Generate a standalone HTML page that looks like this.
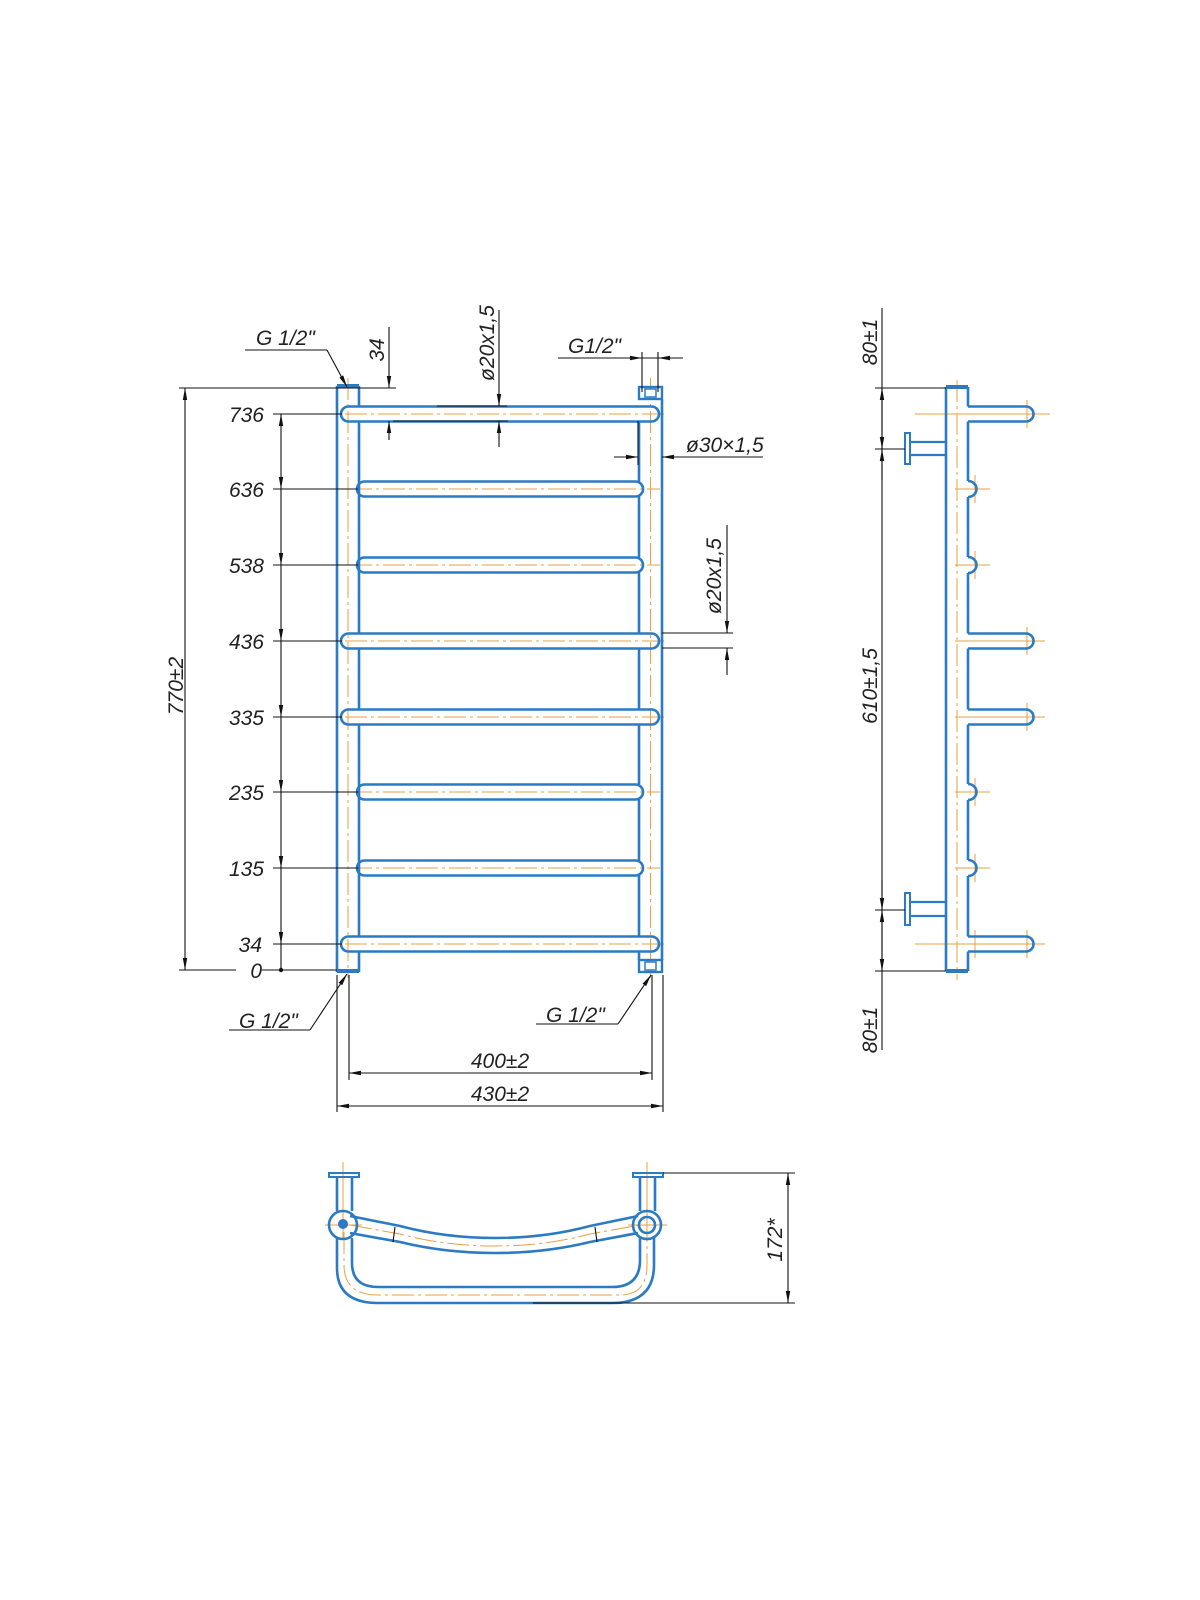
<!DOCTYPE html>
<html><head><meta charset="utf-8"><style>
html,body{margin:0;padding:0;background:#fff;}
svg{display:block;}
text{font-family:"Liberation Sans",sans-serif;font-style:italic;font-size:21px;fill:#222;}
</style></head><body>
<svg width="1200" height="1600" viewBox="0 0 1200 1600" xmlns="http://www.w3.org/2000/svg">
<defs>
<marker id="a" viewBox="0 0 12 6" refX="12" refY="3" markerWidth="12" markerHeight="6" markerUnits="userSpaceOnUse" orient="auto-start-reverse"><path d="M0,0.8 L12,3 L0,5.2z" fill="#111"/></marker>
</defs>
<rect width="1200" height="1600" fill="#fff"/>

<!-- ===== FRONT VIEW ===== -->
<g stroke="#e8a040" stroke-width="1" stroke-dasharray="22,4,3,4" fill="none">
<line x1="348" y1="378" x2="348" y2="978"/>
<line x1="650.5" y1="378" x2="650.5" y2="978"/>
<line x1="345" y1="414" x2="668" y2="414"/>
<line x1="350" y1="489" x2="660" y2="489"/>
<line x1="350" y1="565" x2="660" y2="565"/>
<line x1="345" y1="641" x2="668" y2="641"/>
<line x1="345" y1="717" x2="668" y2="717"/>
<line x1="350" y1="792" x2="660" y2="792"/>
<line x1="350" y1="868" x2="660" y2="868"/>
<line x1="345" y1="944" x2="668" y2="944"/>
</g>
<g stroke="#2a7bc4" stroke-width="2.6" fill="none">
<path d="M337,386 V972 M359,386 V406.5 M359,421.5 V633.5 M359,648.5 V709.5 M359,724.5 V936.5 M359,951.5 V972"/>
<line x1="337" y1="386" x2="359" y2="386" stroke-width="4"/>
<line x1="337" y1="971" x2="359" y2="971" stroke-width="4"/>
<path d="M639,421.5 V481.5 M639,496.5 V557.5 M639,572.5 V633.5 M639,648.5 V709.5 M639,724.5 V784.5 M639,799.5 V860.5 M639,875.5 V936.5 M639,951.5 V960"/>
<path d="M662,400 V960"/>
<rect x="639" y="387" width="23" height="12" stroke-width="2.4"/>
<rect x="639" y="960" width="23" height="12" stroke-width="2.4"/>
<rect x="341" y="406.5" width="318" height="15" rx="7.5"/>
<rect x="341" y="633.5" width="318" height="15" rx="7.5"/>
<rect x="341" y="709.5" width="318" height="15" rx="7.5"/>
<rect x="341" y="936.5" width="318" height="15" rx="7.5"/>
<rect x="357" y="481.5" width="286" height="15" rx="7.5"/>
<rect x="357" y="557.5" width="286" height="15" rx="7.5"/>
<rect x="357" y="784.5" width="286" height="15" rx="7.5"/>
<rect x="357" y="860.5" width="286" height="15" rx="7.5"/>
</g>
<rect x="645" y="389" width="11" height="8" fill="#fff" stroke="#2a7bc4" stroke-width="1.5"/>
<rect x="645" y="962" width="11" height="8" fill="#fff" stroke="#2a7bc4" stroke-width="1.5"/>

<g stroke="#111" stroke-width="1.1" fill="none">
<line x1="273" y1="414" x2="342" y2="414"/>
<line x1="273" y1="489" x2="358" y2="489"/>
<line x1="273" y1="565" x2="358" y2="565"/>
<line x1="273" y1="641" x2="342" y2="641"/>
<line x1="273" y1="717" x2="342" y2="717"/>
<line x1="273" y1="792" x2="358" y2="792"/>
<line x1="273" y1="868" x2="358" y2="868"/>
<line x1="273" y1="944" x2="342" y2="944"/>
<line x1="179" y1="970" x2="236" y2="970"/>
<line x1="262" y1="970" x2="337" y2="970"/>
<line x1="179" y1="388" x2="396" y2="388"/>
<line x1="281" y1="414" x2="281" y2="489" marker-start="url(#a)" marker-end="url(#a)"/>
<line x1="281" y1="489" x2="281" y2="565" marker-end="url(#a)"/>
<line x1="281" y1="565" x2="281" y2="641" marker-end="url(#a)"/>
<line x1="281" y1="641" x2="281" y2="717" marker-end="url(#a)"/>
<line x1="281" y1="717" x2="281" y2="792" marker-end="url(#a)"/>
<line x1="281" y1="792" x2="281" y2="868" marker-end="url(#a)"/>
<line x1="281" y1="868" x2="281" y2="944" marker-end="url(#a)"/>
<line x1="281" y1="944" x2="281" y2="970"/>
<line x1="185" y1="388" x2="185" y2="970" marker-start="url(#a)" marker-end="url(#a)"/>
<line x1="389" y1="327" x2="389" y2="388" marker-end="url(#a)"/>
<line x1="389" y1="440" x2="389" y2="421" marker-end="url(#a)"/>
<line x1="393" y1="421" x2="508" y2="421"/>
<line x1="437" y1="406" x2="507" y2="406"/>
<line x1="499" y1="310" x2="499" y2="406" marker-end="url(#a)"/>
<line x1="499" y1="447" x2="499" y2="421" marker-end="url(#a)"/>
<line x1="245" y1="350" x2="327" y2="350"/>
<line x1="327" y1="350" x2="347" y2="387" marker-end="url(#a)"/>
<line x1="558" y1="358" x2="683" y2="358"/>
<line x1="642" y1="352" x2="642" y2="392"/>
<line x1="658" y1="352" x2="658" y2="392"/>
<line x1="622" y1="358" x2="642" y2="358" marker-end="url(#a)"/>
<line x1="678" y1="358" x2="658" y2="358" marker-end="url(#a)"/>
<line x1="638" y1="421" x2="638" y2="465"/>
<line x1="614" y1="457" x2="638" y2="457" marker-end="url(#a)"/>
<line x1="763" y1="457" x2="662" y2="457" marker-end="url(#a)"/>
<line x1="662" y1="633" x2="733" y2="633"/>
<line x1="662" y1="648" x2="733" y2="648"/>
<line x1="727" y1="525" x2="727" y2="633" marker-end="url(#a)"/>
<line x1="727" y1="675" x2="727" y2="648" marker-end="url(#a)"/>
<line x1="229" y1="1030" x2="310" y2="1030"/>
<line x1="310" y1="1030" x2="347" y2="974" marker-end="url(#a)"/>
<line x1="536" y1="1024" x2="618" y2="1024"/>
<line x1="618" y1="1024" x2="651" y2="975" marker-end="url(#a)"/>
<line x1="349" y1="975" x2="349" y2="1080"/>
<line x1="652" y1="975" x2="652" y2="1080"/>
<line x1="337" y1="975" x2="337" y2="1112"/>
<line x1="663" y1="975" x2="663" y2="1112"/>
<line x1="349" y1="1073" x2="652" y2="1073" marker-start="url(#a)" marker-end="url(#a)"/>
<line x1="337" y1="1106" x2="663" y2="1106" marker-start="url(#a)" marker-end="url(#a)"/>
</g>
<circle cx="281" cy="970" r="2.2" fill="#111"/>

<g text-anchor="end">
<text x="264" y="422">736</text>
<text x="264" y="497">636</text>
<text x="264" y="573">538</text>
<text x="264" y="649">436</text>
<text x="264" y="725">335</text>
<text x="264" y="800">235</text>
<text x="264" y="876">135</text>
<text x="262" y="952">34</text>
<text x="262" y="978">0</text>
</g>
<text x="256" y="345">G 1/2"</text>
<text x="568" y="353">G1/2"</text>
<text x="686" y="452">ø30×1,5</text>
<text x="239" y="1028">G 1/2"</text>
<text x="546" y="1022">G 1/2"</text>
<text x="500" y="1068" text-anchor="middle">400±2</text>
<text x="500" y="1101" text-anchor="middle">430±2</text>
<text transform="translate(183,686) rotate(-90)" text-anchor="middle">770±2</text>
<text transform="translate(384,350) rotate(-90)" text-anchor="middle">34</text>
<text transform="translate(494,343) rotate(-90)" text-anchor="middle">ø20x1,5</text>
<text transform="translate(721,576) rotate(-90)" text-anchor="middle">ø20x1,5</text>

<!-- ===== SIDE VIEW ===== -->
<g stroke="#e8a040" stroke-width="1" stroke-dasharray="22,4,3,4" fill="none">
<line x1="957" y1="380" x2="957" y2="980"/>
</g>
<g stroke="#e8a040" stroke-width="1" fill="none">
<line x1="915" y1="414" x2="1050" y2="414"/><line x1="1027" y1="400" x2="1027" y2="428"/>
<line x1="955" y1="489" x2="990" y2="489"/><line x1="975" y1="475" x2="975" y2="503"/>
<line x1="955" y1="565" x2="990" y2="565"/><line x1="975" y1="551" x2="975" y2="579"/>
<line x1="955" y1="641" x2="1045" y2="641"/><line x1="1027" y1="627" x2="1027" y2="655"/>
<line x1="955" y1="717" x2="1045" y2="717"/><line x1="1027" y1="703" x2="1027" y2="731"/>
<line x1="955" y1="792" x2="990" y2="792"/><line x1="975" y1="778" x2="975" y2="806"/>
<line x1="955" y1="868" x2="990" y2="868"/><line x1="975" y1="854" x2="975" y2="882"/>
<line x1="915" y1="944" x2="1045" y2="944"/><line x1="1027" y1="930" x2="1027" y2="958"/>
<line x1="975" y1="930" x2="975" y2="958"/>
</g>
<g stroke="#2a7bc4" stroke-width="2.6" fill="none">
<line x1="946" y1="387" x2="946" y2="971"/>
<path d="M968,387 V406.5 M968,421.5 V481 M968,497 V557 M968,573 V633.5 M968,648.5 V709.5 M968,724.5 V784 M968,800 V860 M968,876 V936.5 M968,951.5 V971"/>
<line x1="946" y1="387" x2="968" y2="387" stroke-width="4"/>
<line x1="946" y1="971" x2="968" y2="971" stroke-width="4"/>
<path d="M968,406.5 H1026 A7.5,7.5 0 0 1 1026,421.5 H968"/>
<path d="M968,633.5 H1026 A7.5,7.5 0 0 1 1026,648.5 H968"/>
<path d="M968,709.5 H1026 A7.5,7.5 0 0 1 1026,724.5 H968"/>
<path d="M968,936.5 H1026 A7.5,7.5 0 0 1 1026,951.5 H968"/>
<path d="M968,481 A8.5,8 0 1 1 968,497"/>
<path d="M968,557 A8.5,8 0 1 1 968,573"/>
<path d="M968,784 A8.5,8 0 1 1 968,800"/>
<path d="M968,860 A8.5,8 0 1 1 968,876"/>
<rect x="905" y="433" width="5" height="31" stroke-width="2"/>
<path d="M910,442 H946 M910,455 H946" stroke-width="2.2"/>
<rect x="905" y="893" width="5" height="32" stroke-width="2"/>
<path d="M910,902 H946 M910,916 H946" stroke-width="2.2"/>
</g>
<g stroke="#111" stroke-width="1.1" fill="none">
<line x1="882" y1="308" x2="882" y2="1050"/>
<line x1="875" y1="388" x2="946" y2="388"/>
<line x1="875" y1="449" x2="905" y2="449"/>
<line x1="875" y1="910" x2="905" y2="910"/>
<line x1="875" y1="971" x2="946" y2="971"/>
<line x1="882" y1="420" x2="882" y2="388" marker-end="url(#a)"/>
<line x1="882" y1="420" x2="882" y2="449" marker-end="url(#a)"/>
<line x1="882" y1="480" x2="882" y2="449" marker-end="url(#a)"/>
<line x1="882" y1="880" x2="882" y2="910" marker-end="url(#a)"/>
<line x1="882" y1="940" x2="882" y2="910" marker-end="url(#a)"/>
<line x1="882" y1="940" x2="882" y2="971" marker-end="url(#a)"/>
</g>
<text transform="translate(877,342) rotate(-90)" text-anchor="middle">80±1</text>
<text transform="translate(877,686) rotate(-90)" text-anchor="middle">610±1,5</text>
<text transform="translate(877,1030) rotate(-90)" text-anchor="middle">80±1</text>

<!-- ===== TOP VIEW ===== -->
<g stroke="#e8a040" stroke-width="1" fill="none">
<line x1="343" y1="1162" x2="343" y2="1240"/>
<line x1="647" y1="1162" x2="647" y2="1240"/>
<line x1="325" y1="1225" x2="362" y2="1225"/>
<line x1="628" y1="1225" x2="667" y2="1225"/>
<path d="M350,1225 L400,1234 Q445,1246 495,1246 Q545,1246 590,1234 L640,1225" stroke-dasharray="22,4,3,4"/>
<path d="M344,1232 V1265 Q344,1295 378,1295 H620 Q647,1295 647,1265 V1232" stroke-dasharray="22,4,3,4"/>
</g>
<g stroke="#2a7bc4" stroke-width="2.6" fill="none">
<rect x="329" y="1173" width="30" height="4" stroke-width="2"/>
<rect x="633" y="1173" width="30" height="4" stroke-width="2"/>
<path d="M337,1177 V1211 M352,1177 V1211 M640,1177 V1211 M655,1177 V1211"/>
<circle cx="343" cy="1225" r="14"/>
<circle cx="647" cy="1225" r="14"/>
<circle cx="647" cy="1225" r="8"/>
<path d="M350,1216 L400,1226 Q445,1238 495,1238 Q545,1238 590,1226 L638,1216"/>
<path d="M350,1233 L400,1242 Q445,1253 495,1253 Q545,1253 590,1242 L638,1233"/>
<path d="M337,1238 V1268 Q337,1303 378,1303 H612 Q654,1303 654,1265 V1238"/>
<path d="M352,1238 V1263 Q352,1287 378,1287 H612 Q640,1287 640,1260 V1238"/>
</g>
<circle cx="343" cy="1224" r="5" fill="#2a7bc4"/>
<g stroke="#111" stroke-width="1.1" fill="none">
<line x1="395" y1="1227" x2="393" y2="1242"/>
<line x1="595" y1="1227" x2="597" y2="1242"/>
<line x1="663" y1="1173" x2="795" y2="1173"/>
<line x1="533" y1="1303" x2="795" y2="1303"/>
<line x1="788" y1="1173" x2="788" y2="1303" marker-start="url(#a)" marker-end="url(#a)"/>
</g>
<text transform="translate(782,1240) rotate(-90)" text-anchor="middle">172*</text>
</svg>
</body></html>
